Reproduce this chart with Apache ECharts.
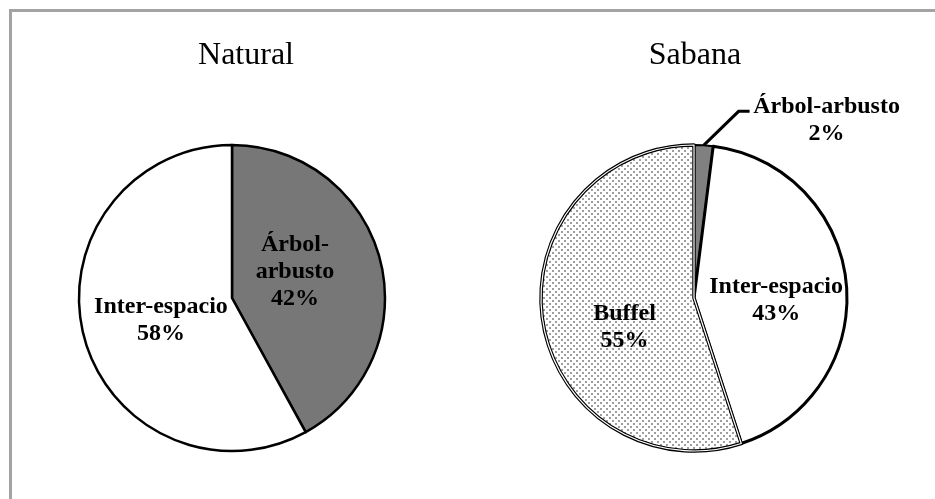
<!DOCTYPE html>
<html>
<head>
<meta charset="utf-8">
<script src="https://cdn.jsdelivr.net/npm/echarts@6/dist/echarts.min.js"></script>
<style>
  html, body { margin: 0; padding: 0; background: #fff; }
  #frame { position: absolute; left: 9px; top: 9px; right: 0; bottom: 0;
           border-top: 3px solid #a3a3a3; border-left: 3px solid #a3a3a3; }
  #chart { width: 935px; height: 499px; }
</style>
</head>
<body>
<div id="chart"></div>
<div id="frame"></div>
<script>
// datos
const titles = ['Natural', 'Sabana']
const naturalNames = ['Árbol-arbusto', 'Inter-espacio']
const naturalLabels = ['Árbol-\narbusto', 'Inter-espacio']
const naturalValues = [42, 58]
const sabanaNames = ['Árbol-arbusto', 'Inter-espacio', 'Buffel']
const sabanaValues = [2, 43, 55]

// trama punteada para Buffel
const makeDots = () => {
  const c = document.createElement('canvas')
  c.width = 6
  c.height = 6
  const ctx = c.getContext('2d')
  ctx.fillStyle = '#ffffff'
  ctx.fillRect(0, 0, 6, 6)
  ctx.fillStyle = '#9e9e9e'
  ctx.fillRect(0, 0, 2, 2)
  ctx.fillRect(3, 3, 2, 2)
  return c
}
const dots = { image: makeDots(), repeat: 'repeat' }

const serif = 'Liberation Serif, Times New Roman, serif'
const labelBase = {
  fontFamily: serif,
  fontWeight: 'bold',
  fontSize: 24,
  lineHeight: 27,
  color: '#000'
}

const chart = echarts.init(document.getElementById('chart'))

const naturalData = naturalNames.map((n, i) => ({
  name: n,
  value: naturalValues[i],
  itemStyle: {
    color: i === 0 ? '#777777' : '#ffffff',
    borderColor: '#000',
    borderWidth: 2.5
  },
  label: {
    formatter: naturalLabels[i] + '\n' + naturalValues[i] + '%',
    offset: i === 0 ? [-14, -6] : [6, 3]
  }
}))

const sabanaStyles = [
  { color: '#808080', borderColor: '#000', borderWidth: 2 },
  { color: '#ffffff', borderColor: '#000', borderWidth: 3 },
  { color: dots, borderColor: '#000', borderWidth: 3.5 }
]
const sabanaOffsets = [[0, 0], [3, 10], [9, 17]]

const sabanaData = sabanaNames.map((n, i) => ({
  name: n,
  value: sabanaValues[i],
  itemStyle: sabanaStyles[i],
  label: i === 0 ? {
    position: 'outside',
    formatter: '{a|' + n + '}\n{a|' + sabanaValues[i] + '%}',
    rich: { a: Object.assign({}, labelBase, { width: 150, align: 'center' }) }
  } : {
    position: 'inside',
    formatter: n + '\n' + sabanaValues[i] + '%',
    offset: sabanaOffsets[i]
  },
  labelLine: i === 0 ? { show: true } : { show: false }
}))

// capa con línea blanca para el borde doble de Buffel
const overlayData = sabanaNames.map((n, i) => ({
  name: n,
  value: sabanaValues[i],
  itemStyle: i === 2
    ? { color: 'rgba(0,0,0,0)', borderColor: '#ffffff', borderWidth: 1.2 }
    : { color: 'rgba(0,0,0,0)', borderWidth: 0 }
}))

const option = {
  animation: false,
  title: titles.map((t, i) => ({
    text: t,
    left: i === 0 ? 241 : 690,
    top: 35,
    textAlign: 'center',
    textStyle: { fontFamily: serif, fontWeight: 'normal', fontSize: 32, color: '#000' }
  })),
  series: [
    {
      type: 'pie',
      center: [232, 298],
      radius: 153,
      startAngle: 90,
      avoidLabelOverlap: false,
      label: Object.assign({ show: true, position: 'inside' }, labelBase),
      labelLine: { show: false },
      emphasis: { disabled: true },
      data: naturalData
    },
    {
      type: 'pie',
      center: [694, 298],
      radius: 153,
      startAngle: 90,
      avoidLabelOverlap: false,
      label: Object.assign({ show: true }, labelBase),
      labelLine: { length: 30, length2: 10, lineStyle: { color: '#000', width: 3 } },
      labelLayout: (p) => {
        if (p.dataIndex !== 0 || !p.labelLinePoints) return {}
        const s = p.labelLinePoints[0]
        const elbow = [s[0] + 35, s[1] - 34]
        const end = [elbow[0] + 11, elbow[1]]
        return {
          x: end[0] + 2,
          y: end[1] - 18,
          align: 'left',
          verticalAlign: 'top',
          labelLinePoints: [s, elbow, end]
        }
      },
      emphasis: { disabled: true },
      data: sabanaData
    },
    {
      type: 'pie',
      center: [694, 298],
      radius: 153,
      startAngle: 90,
      silent: true,
      label: { show: false },
      labelLine: { show: false },
      emphasis: { disabled: true },
      data: overlayData
    }
  ]
}

chart.setOption(option)
</script>
</body>
</html>
